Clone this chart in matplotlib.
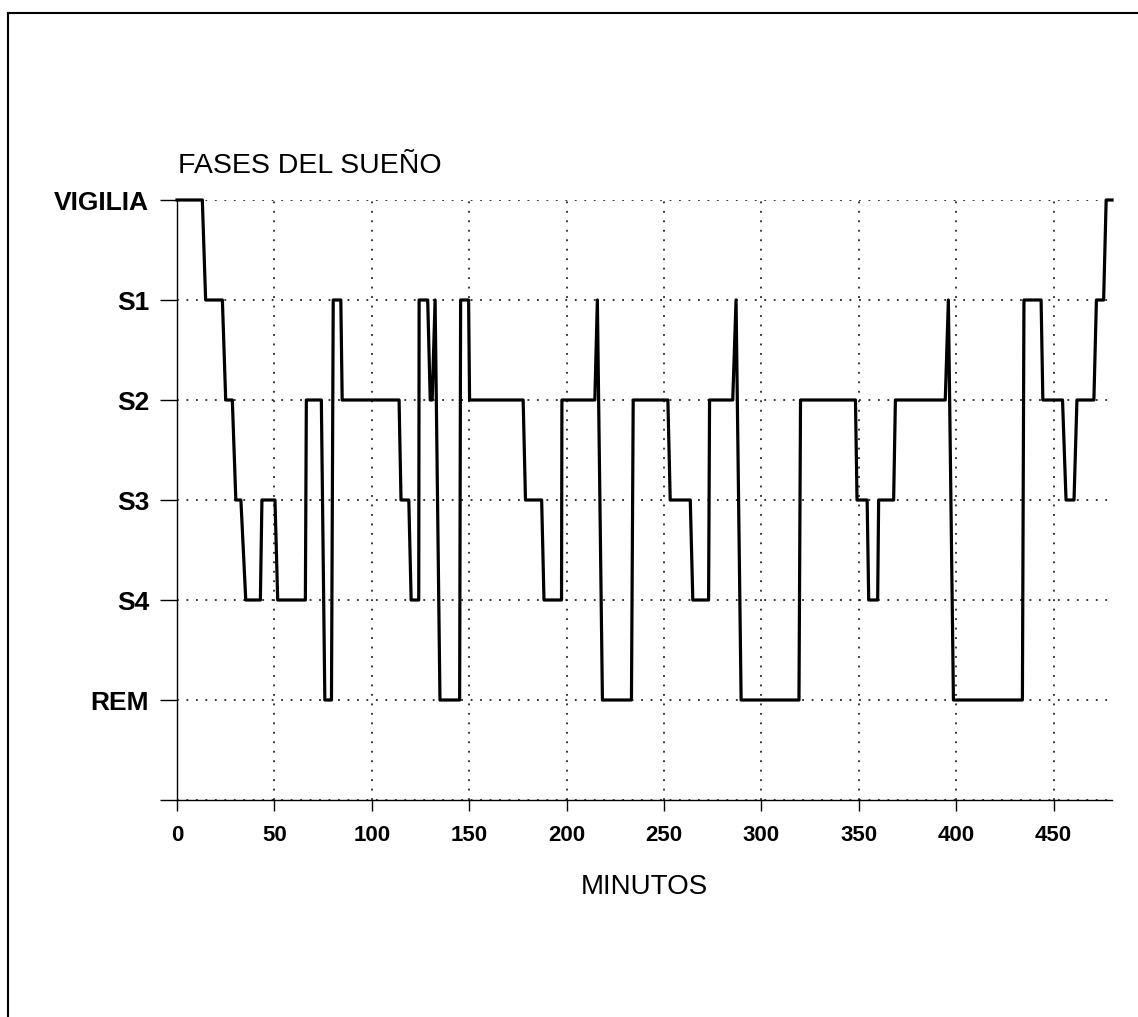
import numpy as np
import matplotlib.pyplot as plt
from matplotlib.lines import Line2D

plt.rcParams['font.family'] = ['Liberation Sans', 'DejaVu Sans']

# Hipnograma: vértices (minuto, fase) leídos del gráfico
# fases: 0=REM, 1=S4, 2=S3, 3=S2, 4=S1, 5=VIGILIA
minutos = [0, 13, 14.7, 23.3, 25, 28.4, 30.2, 32.8, 35.3, 42.8,
           43.6, 50.3, 51.7, 65.9, 66.4, 74.1, 75.9, 79.3, 80.2, 84.1,
           84.8, 114, 115, 119, 120.2, 124.1, 124.3, 128.7, 130, 131,
           132.5, 135, 145.1, 145.6, 149.7, 150.2, 177.7, 178.9, 187.2, 188.4,
           197.4, 197.6, 214.5, 215.8, 218.4, 233.3, 234.2, 252, 253.2, 263.5,
           264.8, 272.9, 273.4, 285.3, 287, 289.6, 319.3, 320.1, 348.3, 349.1,
           354.3, 355.1, 359.7, 360.2, 367.9, 368.8, 394.4, 396, 398.6, 434,
           434.8, 443.6, 444.5, 454.6, 456.4, 460.5, 462, 470.7, 472, 475.7,
           477, 480]
fases = [5, 5, 4, 4, 3, 3, 2, 2, 1, 1,
         2, 2, 1, 1, 3, 3, 0, 0, 4, 4,
         3, 3, 2, 2, 1, 1, 4, 4, 3, 3,
         4, 0, 0, 4, 4, 3, 3, 2, 2, 1,
         1, 3, 3, 4, 0, 0, 3, 3, 2, 2,
         1, 1, 3, 3, 4, 0, 0, 3, 3, 2,
         2, 1, 1, 2, 2, 3, 3, 4, 0, 0,
         4, 4, 3, 3, 2, 2, 3, 3, 4, 4,
         5, 5]

nombres_fases = ['', 'REM', 'S4', 'S3', 'S2', 'S1', 'VIGILIA']
ticks_x = [0, 50, 100, 150, 200, 250, 300, 350, 400, 450]

W, H = 1138, 1017
fig = plt.figure(figsize=(W / 100, H / 100), dpi=100)
ax = fig.add_axes([177 / W, 217 / H, 935 / W, 600 / H])

ax.plot(minutos, fases, color='black', lw=2.3, clip_on=False)

ax.set_xlim(0, 480)
ax.set_ylim(-1, 5)
ax.set_xticks(ticks_x)
ax.set_yticks(range(-1, 6))
ax.set_yticklabels(nombres_fases)

ax.grid(True, linestyle=(0, (1.2, 5)), color='black', lw=1.1)
for s in ['top', 'right']:
    ax.spines[s].set_visible(False)
for s in ['left', 'bottom']:
    ax.spines[s].set_linewidth(1)

ax.tick_params(axis='y', direction='out', length=12, width=1, pad=8, labelsize=19)
ax.tick_params(axis='x', direction='out', length=8, width=1, pad=10, labelsize=16)
for lbl in ax.get_xticklabels() + ax.get_yticklabels():
    lbl.set_fontweight('bold')

ax.set_xlabel('MINUTOS', fontsize=20, labelpad=20)
fig.text(178 / W, 1 - 173 / H, 'FASES DEL SUEÑO', fontsize=20.5,
         ha='left', va='baseline')

# marco exterior
fig.add_artist(Line2D([8 / W, 1], [1 - 13 / H] * 2, transform=fig.transFigure,
                      color='black', lw=1.5))
fig.add_artist(Line2D([8 / W] * 2, [0, 1 - 13 / H], transform=fig.transFigure,
                      color='black', lw=1.5))

fig.savefig('out.png', dpi=100)
